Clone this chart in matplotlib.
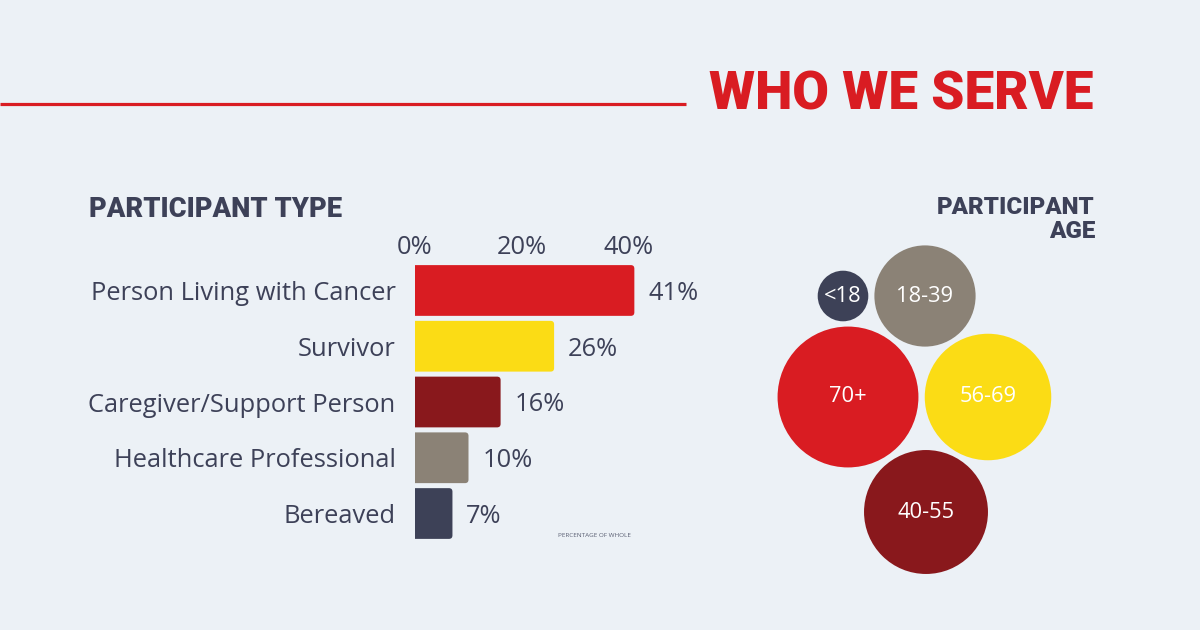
import matplotlib
matplotlib.use("Agg")
import matplotlib.pyplot as plt
from matplotlib.patches import Circle, FancyBboxPatch
import numpy as np

# ---------------- data ----------------
categories = ["Person Living with Cancer", "Survivor", "Caregiver/Support Person",
              "Healthcare Professional", "Bereaved"]
percentages = [41, 26, 16, 10, 7]
xtick_values = [0, 20, 40]
xtick_labels = ["0%", "20%", "40%"]

age_groups = ["<18", "18-39", "70+", "56-69", "40-55"]
age_shares = [4, 16, 31, 25, 24]

# ---------------- style / layout ----------------
BG = "#ecf1f6"
TEXT = "#3d4158"
RED = "#d91c22"
bar_colors = ["#d91c22", "#fbdc15", "#89181c", "#8b8276", "#3d4157"]
age_colors = ["#3d4157", "#8b8276", "#d91c22", "#fbdc15", "#89181c"]
bubble_cx = [843, 925, 848, 988, 926]      # packed-layout centres (pixels)
bubble_cy = [296, 296, 397, 397, 512]
bubble_scale = 12.65                        # radius = scale * sqrt(share)

BODY = ["Open Sans", "DejaVu Sans"]
HEAD = ["Roboto", "Lato", "DejaVu Sans"]

W, H = 1200, 630
fig = plt.figure(figsize=(12, 6.3), dpi=100, facecolor=BG)
renderer = fig.canvas.get_renderer()


def fit(t, width):
    bb = t.get_window_extent(renderer)
    t.set_fontsize(t.get_fontsize() * width / bb.width)
    return t


def px(x0, y0, x1, y1):
    return [x0 / W, 1 - y1 / H, (x1 - x0) / W, (y1 - y0) / H]


# overlay axes in pixel coordinates
ov = fig.add_axes([0, 0, 1, 1])
ov.set_xlim(0, W)
ov.set_ylim(H, 0)
ov.axis("off")
ov.patch.set_alpha(0)

# header line + title
ov.plot([0, 686], [104, 104], color=RED, lw=2.3, solid_capstyle="butt")
t = ov.text(709, 110, "WHO WE SERVE", color=RED, family=HEAD, weight="black",
            fontsize=40, ha="left", va="baseline")
fit(t, 384)

# section headings
t = ov.text(89, 217, "PARTICIPANT TYPE", color=TEXT, family=HEAD, weight="black",
            fontsize=20, ha="left", va="baseline")
fit(t, 253)
t1 = ov.text(1095, 214, "PARTICIPANT", color=TEXT, family=HEAD, weight="black",
             fontsize=18, ha="right", va="baseline")
fit(t1, 158)
ov.text(1095, 238, "AGE", color=TEXT, family=HEAD, weight="black",
        fontsize=t1.get_fontsize(), ha="right", va="baseline")

# footnote
t = ov.text(558, 537, "PERCENTAGE OF WHOLE", color="#5a5f73", family=BODY,
            fontsize=5, ha="left", va="baseline")
fit(t, 73)

# ---------------- bar chart ----------------
ppu = 5.35           # pixels per percent
slot = 55.75         # pixels per bar slot
ax = fig.add_axes(px(415, 262.6, 415 + ppu * 50, 541.4))
ax.set_facecolor("none")
y = np.arange(len(categories))
bars = ax.barh(y, percentages, height=0.91, color=bar_colors, edgecolor="none")
ax.set_xlim(0, 50)
ax.set_ylim(len(categories) - 0.5, -0.5)
for s in ax.spines.values():
    s.set_visible(False)

# replace with right-rounded versions (left edge clipped at the axis)
rad_px = 3.5
for b in bars:
    x0, y0, w, h = b.get_x(), b.get_y(), b.get_width(), b.get_height()
    b.set_visible(False)
    p = FancyBboxPatch((x0 - 1.5, y0), w + 1.5, h,
                       boxstyle=f"round,pad=0,rounding_size={rad_px / ppu}",
                       mutation_aspect=ppu / slot,
                       facecolor=b.get_facecolor(), edgecolor="none")
    ax.add_patch(p)

# size body font by label width
probe = ov.text(0, 0, categories[0], family=BODY, fontsize=18)
fit(probe, 305)
body_fs = probe.get_fontsize()
probe.remove()

ax.set_yticks(y)
ax.set_yticklabels(categories, family=BODY, fontsize=body_fs, color=TEXT)
ax.tick_params(axis="y", length=0, pad=14)
ax.xaxis.tick_top()
ax.set_xticks(xtick_values)
ax.set_xticklabels(xtick_labels, family=BODY, fontsize=body_fs, color=TEXT)
ax.tick_params(axis="x", length=0, pad=2)

for yi, v in zip(y, percentages):
    ax.annotate(f"{v}%", (v, yi), xytext=(10, -2), textcoords="offset points",
                va="center", ha="left", family=BODY, fontsize=body_fs, color=TEXT)

# ---------------- bubbles ----------------
for cx, cy, share, col, lab in zip(bubble_cx, bubble_cy, age_shares, age_colors, age_groups):
    r = bubble_scale * np.sqrt(share)
    ov.add_patch(Circle((cx, cy), r, facecolor=col, edgecolor="none"))
    ov.text(cx, cy, lab, color="white", family=BODY, fontsize=body_fs * 0.86,
            ha="center", va="center")

fig.savefig("out.png", dpi=100, facecolor=BG)
